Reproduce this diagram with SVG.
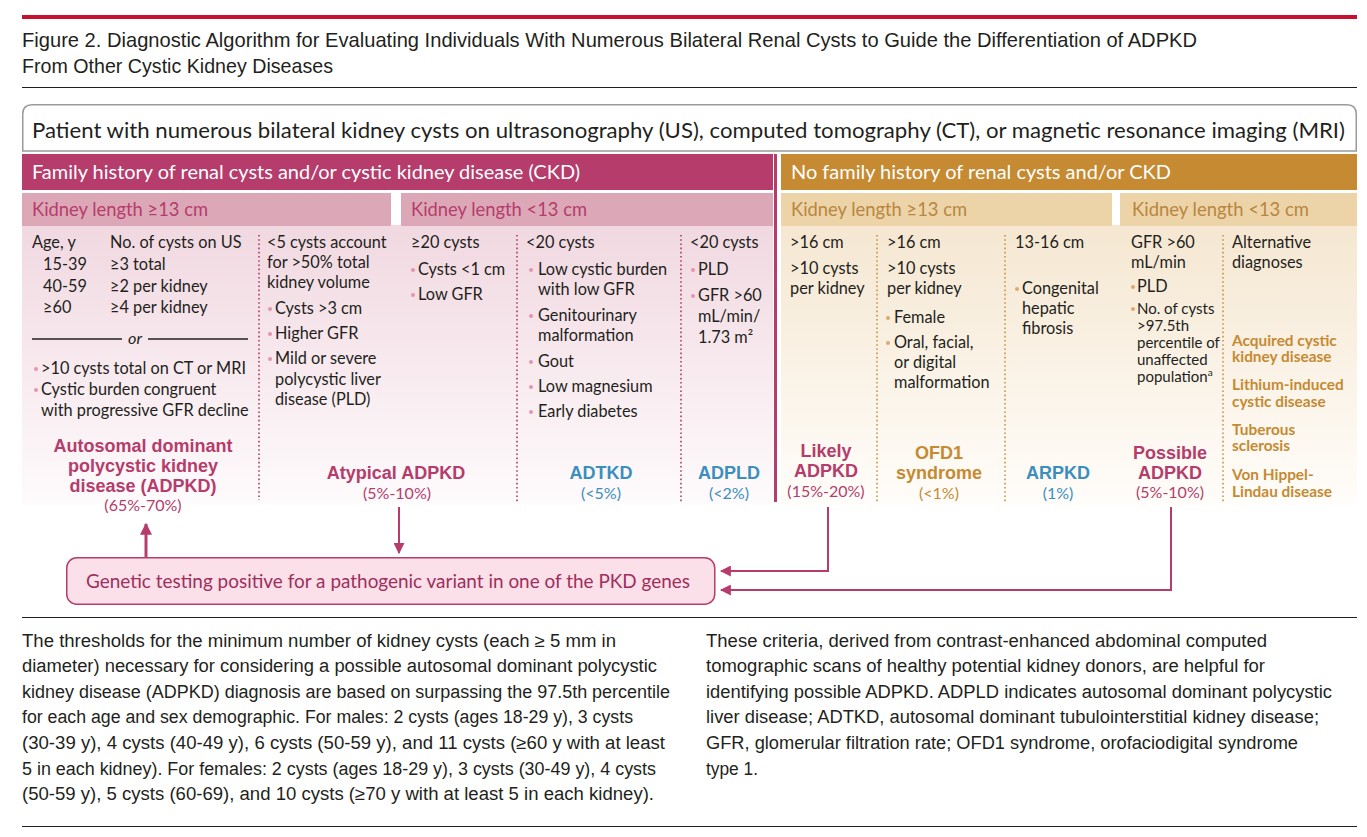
<svg xmlns="http://www.w3.org/2000/svg" width="1367" height="837" viewBox="0 0 1367 837">
<defs>
<linearGradient id="gp" x1="0" y1="0" x2="0" y2="1"><stop offset="0" stop-color="#f1d8e1"/><stop offset="1" stop-color="#fefbfc"/></linearGradient>
<linearGradient id="gg" x1="0" y1="0" x2="0" y2="1"><stop offset="0" stop-color="#f5e7d1"/><stop offset="1" stop-color="#fffdfa"/></linearGradient>
<marker id="ah" viewBox="0 0 10 10" refX="9" refY="5" markerWidth="4" markerHeight="4" orient="auto" markerUnits="strokeWidth"><path d="M0,0 L10,5 L0,10 z" fill="#b53c6b"/></marker>
<marker id="ah2" viewBox="0 0 10 10" refX="9" refY="5" markerWidth="5.5" markerHeight="5.5" orient="auto" markerUnits="strokeWidth"><path d="M0,0 L10,5 L0,10 z" fill="#b53c6b"/></marker>
<style>
.ttl{font-family:"Liberation Sans",Arial,sans-serif;font-size:21px;fill:#231f20}
.t{font-family:Lato,"Liberation Sans",sans-serif;font-size:16.3px;fill:#231f20}
.s{font-family:Lato,"Liberation Sans",sans-serif;font-size:15px;fill:#231f20}
.hw{font-family:Lato,"Liberation Sans",sans-serif;font-size:19.5px;fill:#ffffff}
.klp{font-family:Lato,"Liberation Sans",sans-serif;font-size:19px;fill:#b53c6b}
.klg{font-family:Lato,"Liberation Sans",sans-serif;font-size:19px;fill:#b8863e}
.lm{font-family:"Liberation Sans",Arial,sans-serif;font-size:18px;font-weight:bold;fill:#b53c6b;text-anchor:middle}
.lb{font-family:"Liberation Sans",Arial,sans-serif;font-size:18px;font-weight:bold;fill:#3b8fbd;text-anchor:middle}
.lg{font-family:"Liberation Sans",Arial,sans-serif;font-size:18px;font-weight:bold;fill:#c68a32;text-anchor:middle}
.pm{font-family:Lato,"Liberation Sans",sans-serif;font-size:16px;fill:#b53c6b;text-anchor:middle}
.pb{font-family:Lato,"Liberation Sans",sans-serif;font-size:16px;fill:#3b8fbd;text-anchor:middle}
.pg{font-family:Lato,"Liberation Sans",sans-serif;font-size:16px;fill:#c68a32;text-anchor:middle}
.alt{font-family:Lato,"Liberation Sans",sans-serif;font-size:15.4px;font-weight:bold;fill:#c68a32}
.fn{font-family:"Liberation Sans",Arial,sans-serif;font-size:18px;fill:#231f20}
.bp{fill:#e594b0}
.bg{fill:#dcaa68}
.dm{stroke:#b03a68;stroke-width:1.6;stroke-dasharray:1.6 2.6;fill:none}
.dg{stroke:#c8943f;stroke-width:1.6;stroke-dasharray:1.6 2.6;fill:none}
.conn{stroke:#b53c6b;fill:none}
</style>
</defs>
<rect width="1367" height="837" fill="#ffffff"/>
<g id="header">
<rect x="22" y="15" width="1335" height="4" fill="#c8102e"/>
<text class="ttl" x="22" y="47" textLength="1175" lengthAdjust="spacingAndGlyphs">Figure 2. Diagnostic Algorithm for Evaluating Individuals With Numerous Bilateral Renal Cysts to Guide the Differentiation of ADPKD</text>
<text class="ttl" x="22" y="73" textLength="311" lengthAdjust="spacingAndGlyphs">From Other Cystic Kidney Diseases</text>
<line x1="22" y1="87.5" x2="1357" y2="87.5" stroke="#231f20" stroke-width="1.2"/>
</g>
<g id="patient">
<path d="M22.75,151 V114 Q22.75,104.75 32,104.75 H1347 Q1356.25,104.75 1356.25,114 V151 Z" fill="#ffffff" stroke="#9a9a9a" stroke-width="1.5"/>
<text class="t" x="32" y="138" style="font-size:21.5px" textLength="1313" lengthAdjust="spacingAndGlyphs">Patient with numerous bilateral kidney cysts on ultrasonography (US), computed tomography (CT), or magnetic resonance imaging (MRI)</text>
</g>
<g id="family">
<rect x="22" y="154" width="751" height="36" fill="#b53c6b"/>
<text class="hw" x="32" y="179" textLength="548" lengthAdjust="spacingAndGlyphs">Family history of renal cysts and/or cystic kidney disease (CKD)</text>
<rect x="22" y="225" width="751" height="280" fill="url(#gp)"/>
<rect x="22" y="193" width="369" height="33" fill="#dca8b8"/>
<text class="klp" x="32" y="216" textLength="176" lengthAdjust="spacingAndGlyphs">Kidney length ≥13 cm</text>
<rect x="401" y="193" width="372" height="33" fill="#dca8b8"/>
<text class="klp" x="411" y="216" textLength="176" lengthAdjust="spacingAndGlyphs">Kidney length &lt;13 cm</text>
<line class="dm" x1="259" y1="235" x2="259" y2="500"/>
<line class="dm" x1="517" y1="235" x2="517" y2="502"/>
<line class="dm" x1="681" y1="235" x2="681" y2="502"/>
</g>
<g id="nofamily">
<rect x="781" y="154" width="576" height="36" fill="#c68a32"/>
<text class="hw" x="791" y="179" textLength="380" lengthAdjust="spacingAndGlyphs">No family history of renal cysts and/or CKD</text>
<rect x="781" y="225" width="576" height="280" fill="url(#gg)"/>
<rect x="781" y="193" width="331" height="33" fill="#ecd3a8"/>
<text class="klg" x="791" y="216" textLength="176" lengthAdjust="spacingAndGlyphs">Kidney length ≥13 cm</text>
<rect x="1120" y="193" width="237" height="33" fill="#ecd3a8"/>
<text class="klg" x="1132" y="216" textLength="177" lengthAdjust="spacingAndGlyphs">Kidney length &lt;13 cm</text>
<line class="dg" x1="877" y1="235" x2="877" y2="502"/>
<line class="dg" x1="1005" y1="235" x2="1005" y2="502"/>
<line class="dg" x1="1223" y1="235" x2="1223" y2="502"/>
</g>
<rect id="divider" x="774" y="154" width="3" height="348" fill="#b53c6b"/>
<g id="adpkd">
<text class="t" x="32" y="248">Age, y</text>
<text class="t" x="110" y="248">No. of cysts on US</text>
<text class="t" x="43" y="270">15-39</text>
<text class="t" x="110" y="270">≥3 total</text>
<text class="t" x="43" y="292">40-59</text>
<text class="t" x="110" y="292">≥2 per kidney</text>
<text class="t" x="43" y="313">≥60</text>
<text class="t" x="110" y="313">≥4 per kidney</text>
<line x1="32" y1="339" x2="122" y2="339" stroke="#231f20" stroke-width="1.5"/>
<text class="t" x="135" y="344" text-anchor="middle" font-style="italic">or</text>
<line x1="148" y1="339" x2="248" y2="339" stroke="#231f20" stroke-width="1.5"/>
<circle class="bp" cx="36" cy="369" r="2"/>
<text class="t" x="41" y="374">&gt;10 cysts total on CT or MRI</text>
<circle class="bp" cx="36" cy="390" r="2"/>
<text class="t" x="41" y="395">Cystic burden congruent</text>
<text class="t" x="41" y="416">with progressive GFR decline</text>
<text class="lm" x="143" y="452">Autosomal dominant</text>
<text class="lm" x="143" y="472">polycystic kidney</text>
<text class="lm" x="143" y="492">disease (ADPKD)</text>
<text class="pm" x="143" y="511">(65%-70%)</text>
</g>
<g id="atypical">
<text class="t" x="267" y="248">&lt;5 cysts account</text>
<text class="t" x="267" y="268">for &gt;50% total</text>
<text class="t" x="267" y="288">kidney volume</text>
<circle class="bp" cx="270" cy="309" r="2"/>
<text class="t" x="275" y="314">Cysts &gt;3 cm</text>
<circle class="bp" cx="270" cy="334" r="2"/>
<text class="t" x="275" y="339">Higher GFR</text>
<circle class="bp" cx="270" cy="359" r="2"/>
<text class="t" x="275" y="364">Mild or severe</text>
<text class="t" x="275" y="385">polycystic liver</text>
<text class="t" x="275" y="405">disease (PLD)</text>
<circle class="bp" cx="413" cy="270" r="2"/>
<text class="t" x="411" y="248">≥20 cysts</text>
<text class="t" x="418" y="275">Cysts &lt;1 cm</text>
<circle class="bp" cx="413" cy="295" r="2"/>
<text class="t" x="418" y="300">Low GFR</text>
<text class="lm" x="396" y="479">Atypical ADPKD</text>
<text class="pm" x="397" y="499">(5%-10%)</text>
</g>
<g id="adtkd">
<text class="t" x="526" y="248">&lt;20 cysts</text>
<circle class="bp" cx="531" cy="270" r="2"/>
<text class="t" x="538" y="275">Low cystic burden</text>
<text class="t" x="538" y="295">with low GFR</text>
<circle class="bp" cx="531" cy="316" r="2"/>
<text class="t" x="538" y="321">Genitourinary</text>
<text class="t" x="538" y="341">malformation</text>
<circle class="bp" cx="531" cy="362" r="2"/>
<text class="t" x="538" y="367">Gout</text>
<circle class="bp" cx="531" cy="387" r="2"/>
<text class="t" x="538" y="392">Low magnesium</text>
<circle class="bp" cx="531" cy="412" r="2"/>
<text class="t" x="538" y="417">Early diabetes</text>
<text class="lb" x="601" y="479">ADTKD</text>
<text class="pb" x="601" y="499">(&lt;5%)</text>
</g>
<g id="adpld">
<text class="t" x="690" y="248">&lt;20 cysts</text>
<circle class="bp" cx="693" cy="270" r="2"/>
<text class="t" x="698" y="275">PLD</text>
<circle class="bp" cx="693" cy="296" r="2"/>
<text class="t" x="698" y="301">GFR &gt;60</text>
<text class="t" x="698" y="322">mL/min/</text>
<text class="t" x="698" y="343">1.73 m²</text>
<text class="lb" x="729" y="479">ADPLD</text>
<text class="pb" x="729" y="499">(&lt;2%)</text>
</g>
<g id="likely">
<text class="t" x="790" y="248">&gt;16 cm</text>
<text class="t" x="790" y="274">&gt;10 cysts</text>
<text class="t" x="790" y="294">per kidney</text>
<text class="lm" x="826" y="457">Likely</text>
<text class="lm" x="826" y="477">ADPKD</text>
<text class="pm" x="826" y="497">(15%-20%)</text>
</g>
<g id="ofd1">
<text class="t" x="887" y="248">&gt;16 cm</text>
<text class="t" x="887" y="274">&gt;10 cysts</text>
<text class="t" x="887" y="294">per kidney</text>
<circle class="bg" cx="888" cy="318" r="2"/>
<text class="t" x="894" y="323">Female</text>
<circle class="bg" cx="888" cy="343" r="2"/>
<text class="t" x="894" y="348">Oral, facial,</text>
<text class="t" x="894" y="368">or digital</text>
<text class="t" x="894" y="388">malformation</text>
<text class="lg" x="939" y="459">OFD1</text>
<text class="lg" x="939" y="479">syndrome</text>
<text class="pg" x="939" y="499">(&lt;1%)</text>
</g>
<g id="arpkd">
<text class="t" x="1015" y="248">13-16 cm</text>
<circle class="bg" cx="1017" cy="289" r="2"/>
<text class="t" x="1022" y="294">Congenital</text>
<text class="t" x="1022" y="314">hepatic</text>
<text class="t" x="1022" y="334">fibrosis</text>
<text class="lb" x="1058" y="479">ARPKD</text>
<text class="pb" x="1058" y="499">(1%)</text>
</g>
<g id="possible">
<text class="t" x="1131" y="248">GFR &gt;60</text>
<text class="t" x="1131" y="268">mL/min</text>
<circle class="bg" cx="1133" cy="287" r="2"/>
<text class="t" x="1137" y="292">PLD</text>
<circle class="bg" cx="1133" cy="309" r="2"/>
<text class="s" x="1137" y="314">No. of cysts</text>
<text class="s" x="1137" y="331">&gt;97.5th</text>
<text class="s" x="1137" y="348">percentile of</text>
<text class="s" x="1137" y="365">unaffected</text>
<text class="s" x="1137" y="382">population<tspan font-size="10" dy="-6">a</tspan></text>
<text class="lm" x="1170" y="459">Possible</text>
<text class="lm" x="1170" y="479">ADPKD</text>
<text class="pm" x="1170" y="498">(5%-10%)</text>
</g>
<g id="alternative">
<text class="t" x="1232" y="248">Alternative</text>
<text class="t" x="1232" y="268">diagnoses</text>
<text class="alt" x="1232" y="346">Acquired cystic</text>
<text class="alt" x="1232" y="362">kidney disease</text>
<text class="alt" x="1232" y="390">Lithium-induced</text>
<text class="alt" x="1232" y="407">cystic disease</text>
<text class="alt" x="1232" y="435">Tuberous</text>
<text class="alt" x="1232" y="451">sclerosis</text>
<text class="alt" x="1232" y="480">Von Hippel-</text>
<text class="alt" x="1232" y="497">Lindau disease</text>
</g>
<g id="genetic">
<rect x="66.75" y="557.75" width="648" height="46.5" rx="10" fill="#fbdfe9" stroke="#b53c6b" stroke-width="1.5"/>
<text class="t" x="86" y="588" style="font-size:19.5px;fill:#9e2f5c" textLength="604" lengthAdjust="spacingAndGlyphs">Genetic testing positive for a pathogenic variant in one of the PKD genes</text>
</g>
<g id="connectors">
<line class="conn" x1="146" y1="557" x2="146" y2="524" stroke-width="3" marker-end="url(#ah)"/>
<line class="conn" x1="399" y1="507" x2="399" y2="553" stroke-width="2" marker-end="url(#ah2)"/>
<polyline class="conn" points="828,507 828,571 721,571" stroke-width="2" marker-end="url(#ah2)"/>
<polyline class="conn" points="1171,507 1171,590 721,590" stroke-width="2" marker-end="url(#ah2)"/>
</g>
<g id="footnotes">
<line x1="22" y1="617.5" x2="1357" y2="617.5" stroke="#231f20" stroke-width="1.2"/>
<text class="fn" x="22" y="647" textLength="594" lengthAdjust="spacingAndGlyphs">The thresholds for the minimum number of kidney cysts (each ≥ 5 mm in</text>
<text class="fn" x="22" y="672" textLength="635" lengthAdjust="spacingAndGlyphs">diameter) necessary for considering a possible autosomal dominant polycystic</text>
<text class="fn" x="22" y="698" textLength="648" lengthAdjust="spacingAndGlyphs">kidney disease (ADPKD) diagnosis are based on surpassing the 97.5th percentile</text>
<text class="fn" x="22" y="723" textLength="611" lengthAdjust="spacingAndGlyphs">for each age and sex demographic. For males: 2 cysts (ages 18-29 y), 3 cysts</text>
<text class="fn" x="22" y="749" textLength="643" lengthAdjust="spacingAndGlyphs">(30-39 y), 4 cysts (40-49 y), 6 cysts (50-59 y), and 11 cysts (≥60 y with at least</text>
<text class="fn" x="22" y="775" textLength="634" lengthAdjust="spacingAndGlyphs">5 in each kidney). For females: 2 cysts (ages 18-29 y), 3 cysts (30-49 y), 4 cysts</text>
<text class="fn" x="22" y="800" textLength="632" lengthAdjust="spacingAndGlyphs">(50-59 y), 5 cysts (60-69), and 10 cysts (≥70 y with at least 5 in each kidney).</text>
<text class="fn" x="706" y="647" textLength="561" lengthAdjust="spacingAndGlyphs">These criteria, derived from contrast-enhanced abdominal computed</text>
<text class="fn" x="706" y="672" textLength="559" lengthAdjust="spacingAndGlyphs">tomographic scans of healthy potential kidney donors, are helpful for</text>
<text class="fn" x="706" y="698" textLength="626" lengthAdjust="spacingAndGlyphs">identifying possible ADPKD. ADPLD indicates autosomal dominant polycystic</text>
<text class="fn" x="706" y="723" textLength="613" lengthAdjust="spacingAndGlyphs">liver disease; ADTKD, autosomal dominant tubulointerstitial kidney disease;</text>
<text class="fn" x="706" y="749" textLength="592" lengthAdjust="spacingAndGlyphs">GFR, glomerular filtration rate; OFD1 syndrome, orofaciodigital syndrome</text>
<text class="fn" x="706" y="775" textLength="52" lengthAdjust="spacingAndGlyphs">type 1.</text>
<line x1="22" y1="826.5" x2="1357" y2="826.5" stroke="#231f20" stroke-width="1.2"/>
</g>
</svg>
